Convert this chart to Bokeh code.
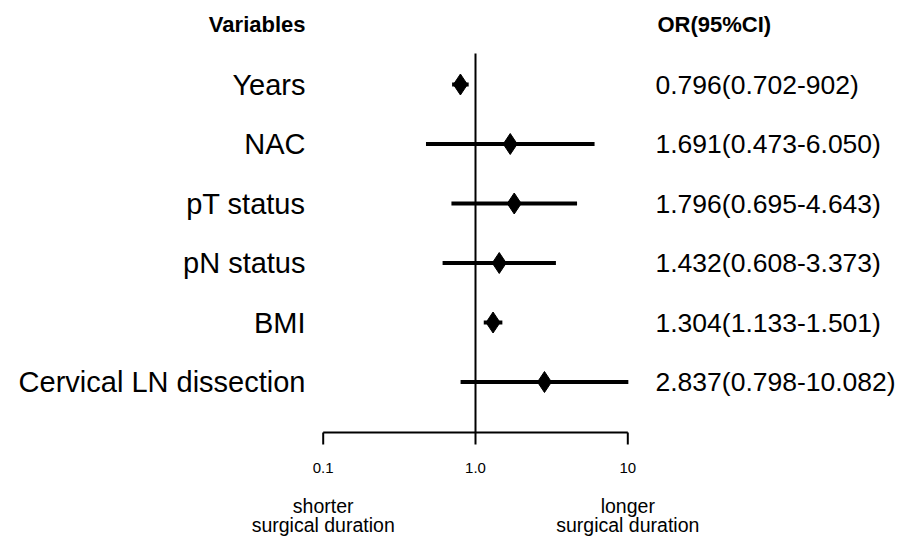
import numpy as np
from bokeh.plotting import figure
from bokeh.models import Range1d, ColumnDataSource
from bokeh.core.properties import value
from bokeh.embed import file_html
from bokeh.resources import INLINE

# ---------------- data ----------------
variables = ["Years", "NAC", "pT status", "pN status", "BMI",
             "Cervical LN dissection"]
odds_ratio = [0.796, 1.691, 1.796, 1.432, 1.304, 2.837]
ci_low = [0.702, 0.473, 0.695, 0.608, 1.133, 0.798]
ci_high = [0.902, 6.050, 4.643, 3.373, 1.501, 10.082]
or_text = ["0.796(0.702-902)", "1.691(0.473-6.050)", "1.796(0.695-4.643)",
           "1.432(0.608-3.373)", "1.304(1.133-1.501)", "2.837(0.798-10.082)"]
tick_values = [0.1, 1.0, 10.0]
tick_labels = ["0.1", "1.0", "10"]
header_left = "Variables"
header_right = "OR(95%CI)"
caption_lines_1 = ["shorter", "longer"]
caption_lines_2 = ["surgical duration", "surgical duration"]

# ---------------- layout helpers (pixel geometry) ----------------
W, H = 901, 536
X0, DEC = 475.0, 152.3      # canvas x of OR=1, pixels per decade
Y0, ROW = 84.0, 59.5        # canvas y of first row, row spacing
AXIS_PY = 432               # canvas y of the axis line
FONT = value("Liberation Sans")


def px_to_x(px):
    return 10 ** ((px - X0) / DEC)


def py_to_y(py):
    return (py - Y0) / ROW


rows = list(range(len(variables)))

p = figure(width=W, height=H, x_axis_type="log",
           x_axis_location=None, y_axis_location=None,
           x_range=Range1d(px_to_x(0), px_to_x(W)),
           y_range=Range1d(py_to_y(H), py_to_y(0)),
           output_backend="svg", toolbar_location=None, min_border=0)
p.outline_line_color = None
p.xgrid.visible = False
p.ygrid.visible = False
p.background_fill_color = "white"
p.border_fill_color = "white"

y_axis = py_to_y(AXIS_PY)
y_tick_end = py_to_y(AXIS_PY + 12)

# axis line, ticks and tick labels
p.segment(x0=[tick_values[0]], y0=[y_axis], x1=[tick_values[-1]], y1=[y_axis],
          line_color="black", line_width=2)
p.segment(x0=tick_values, y0=[y_axis] * 3, x1=tick_values, y1=[y_tick_end] * 3,
          line_color="black", line_width=2)
p.text(x=tick_values, y=[py_to_y(467)] * 3, text=tick_labels,
       text_align="center", text_baseline="middle", text_font=FONT,
       text_font_size="15px", text_color="black")

# reference line at OR = 1
p.segment(x0=[1.0], y0=[py_to_y(53)], x1=[1.0], y1=[y_axis],
          line_color="black", line_width=2)

src = ColumnDataSource(dict(var=variables, orv=odds_ratio, lo=ci_low,
                            hi=ci_high, txt=or_text, row=rows,
                            lx=[px_to_x(305)] * len(rows),
                            rx=[px_to_x(655)] * len(rows)))

p.segment(x0="lo", y0="row", x1="hi", y1="row", source=src,
          line_color="black", line_width=4)
p.scatter(x="orv", y="row", source=src, marker="diamond", size=21,
          fill_color="black", line_color="black")

p.text(x="lx", y="row", text="var", source=src,
       text_align="right", text_baseline="middle",
       text_font=FONT, text_font_size="29px", text_color="black")
p.text(x="rx", y="row", text="txt", source=src,
       text_align="left", text_baseline="middle",
       text_font=FONT, text_font_size="26.5px", text_color="black")

p.text(x=[px_to_x(305)], y=[py_to_y(24)], text=[header_left],
       text_align="right", text_baseline="middle",
       text_font=FONT, text_font_style="bold",
       text_font_size="22px", text_color="black")
p.text(x=[px_to_x(657)], y=[py_to_y(24)], text=[header_right],
       text_align="left", text_baseline="middle",
       text_font=FONT, text_font_style="bold",
       text_font_size="22px", text_color="black")

cap_x = [tick_values[0], tick_values[-1]]
p.text(x=cap_x, y=[py_to_y(505)] * 2, text=caption_lines_1,
       text_align="center", text_baseline="middle",
       text_font=FONT, text_font_size="19.5px", text_color="black")
p.text(x=cap_x, y=[py_to_y(524)] * 2, text=caption_lines_2,
       text_align="center", text_baseline="middle",
       text_font=FONT, text_font_size="19.5px", text_color="black")

open("out.html", "w").write(file_html(p, INLINE))
